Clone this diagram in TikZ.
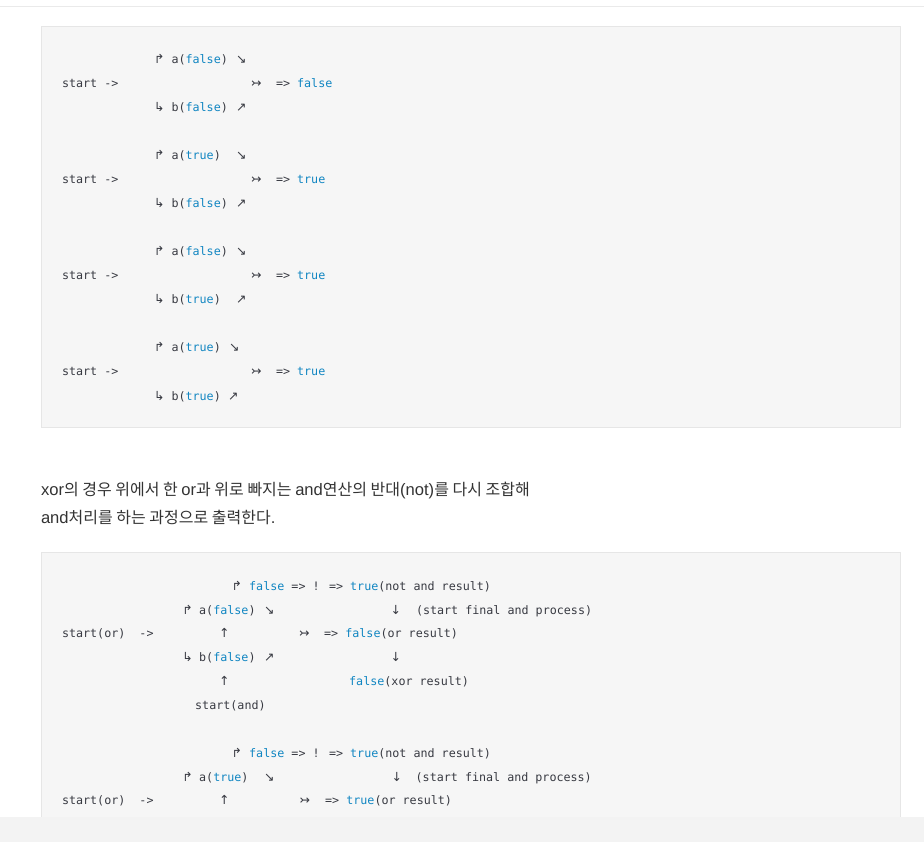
\documentclass[tikz,border=0pt]{standalone}
\usepackage{fontspec}
\usepackage{xcolor}
\newfontfamily\codefnt{DejaVu Sans Mono}
\newfontfamily\arrfnt{DejaVu Sans}
\newfontfamily\krfnt{Noto Sans CJK KR}
\newfontfamily\latfnt{Liberation Sans}
\definecolor{codegray}{HTML}{383A42}
\definecolor{litblue}{HTML}{1186C2}
\definecolor{blockfill}{HTML}{F6F6F6}
\definecolor{blockline}{HTML}{E6E6E6}
\definecolor{barfill}{HTML}{F3F3F3}
\definecolor{topline}{HTML}{EAEAEA}
\definecolor{prose}{HTML}{333333}
\newcommand\lit[1]{\textcolor{litblue}{#1}}
\newcommand\latf{\latfnt\fontsize{16.6}{20}\selectfont}
\newcommand\krf{\krfnt\fontsize{16}{20}\selectfont}
\tikzset{
  codetxt/.style={anchor=base west, inner sep=0pt, outer sep=0pt, text=codegray,
    font=\codefnt\fontsize{11.7}{14}\selectfont},
  arr/.style={anchor=base west, inner sep=0pt, outer sep=0pt, text=codegray,
    font=\arrfnt\fontsize{12.5}{14}\selectfont},
  prosetxt/.style={anchor=base west, inner sep=0pt, outer sep=0pt, text=prose},
  codeblock/.style={fill=blockfill, draw=blockline, line width=1pt},
}
\begin{document}
\begin{tikzpicture}[x=1pt,y=-1pt]
\useasboundingbox[fill=white] (0,0) rectangle (924,842);
\draw[topline, line width=1pt] (0,6.7) -- (924,6.7);
% code block 1
\draw[codeblock] (41,26.5) rectangle (900,427);
% top block groups
\foreach \k/\av/\bv/\res/\ax/\bx in {0/false/false/false/236/236, 1/true/false/true/236/236, 2/false/true/true/236/236, 3/true/true/true/229/228}{
  \pgfmathsetmacro{\yo}{96*\k}
  \node[arr] (up\k) at (154,64+\yo) {↱};
  \node[codetxt] (a\k) at (171.5,64+\yo) {a(\lit{\av})};
  \node[arr] (ad\k) at (\ax,64+\yo) {↘};
  \node[codetxt] (s\k) at (62,88+\yo) {start ->};
  \node[arr] (m\k) at (251,88+\yo) {↣};
  \node[codetxt] (r\k) at (276,88+\yo) {=> \lit{\res}};
  \node[arr] (dn\k) at (154,112+\yo) {↳};
  \node[codetxt] (b\k) at (171.5,112+\yo) {b(\lit{\bv})};
  \node[arr] (bu\k) at (\bx,112+\yo) {↗};
}
% prose
\node[prosetxt] (p1) at (41,495) {\latf xor\krf 의 경우 위에서 한 \latf or\krf 과 위로 빠지는 \latf and\krf 연산의 반대\latf (not)\krf 를 다시 조합해};
\node[prosetxt] (p2) at (41,523) {\latf and\krf 처리를 하는 과정으로 출력한다\latf .};
% code block 2
\draw[codeblock] (41,552.5) rectangle (900,850);
% group A
\node[arr] (A1u) at (231.7,590) {↱};
\node[codetxt] (A1t) at (249.2,590) {\lit{false} => ! => \lit{true}(not and result)};
\node[arr] (A2u) at (182.3,614) {↱};
\node[codetxt] (A2a) at (199.2,614) {a(\lit{false})};
\node[arr] (A2d) at (264,614) {↘};
\node[arr] (A2v) at (390.5,614) {↓};
\node[codetxt] (A2p) at (416,614) {(start final and process)};
\node[codetxt] (A3s) at (62,637) {start(or)\ \ ->};
\node[arr] (A3u) at (219,637) {↑};
\node[arr] (A3m) at (299,637) {↣};
\node[codetxt] (A3r) at (324.2,637) {=> \lit{false}(or result)};
\node[arr] (A4u) at (182.3,661) {↳};
\node[codetxt] (A4b) at (199.2,661) {b(\lit{false})};
\node[arr] (A4d) at (264,661) {↗};
\node[arr] (A4v) at (390.5,661) {↓};
\node[arr] (A5u) at (219,685) {↑};
\node[codetxt] (A5r) at (349.2,685) {\lit{false}(xor result)};
\node[codetxt] (A6s) at (195.2,709) {start(and)};
% group B
\node[arr] (B1u) at (231.7,757) {↱};
\node[codetxt] (B1t) at (249.2,757) {\lit{false} => ! => \lit{true}(not and result)};
\node[arr] (B2u) at (182.3,781) {↱};
\node[codetxt] (B2a) at (199.2,781) {a(\lit{true})};
\node[arr] (B2d) at (264,781) {↘};
\node[arr] (B2v) at (391.5,781) {↓};
\node[codetxt] (B2p) at (415.7,781) {(start final and process)};
\node[codetxt] (B3s) at (62,804) {start(or)\ \ ->};
\node[arr] (B3u) at (219,804) {↑};
\node[arr] (B3m) at (299.7,804) {↣};
\node[codetxt] (B3r) at (325.2,804) {=> \lit{true}(or result)};
% bottom bar
\fill[barfill] (0,817) rectangle (924,842);
\end{tikzpicture}
\end{document}
